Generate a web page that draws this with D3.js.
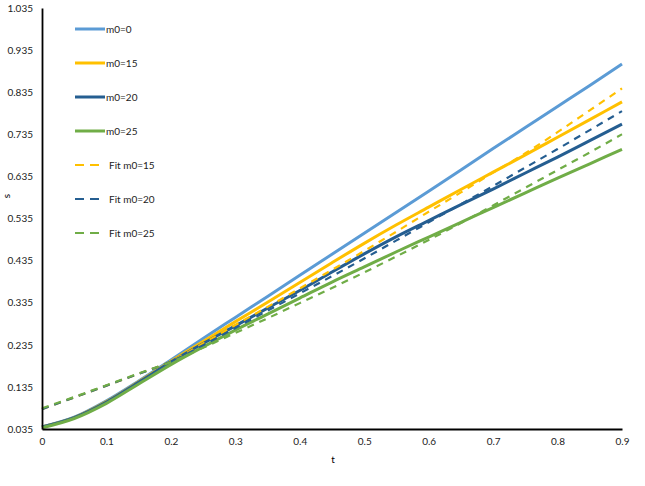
<!DOCTYPE html>
<html>
<head>
<meta charset="utf-8">
<script src="https://d3js.org/d3.v7.min.js"></script>
<style>
  body { margin: 0; background: #fff; }
  text { font-family: Lato, "Open Sans", sans-serif; }
</style>
</head>
<body>
<div id="chart"></div>
<script>
// t values shared by all series
const tValues = [0, 0.05, 0.1, 0.15, 0.2, 0.25, 0.3, 0.35, 0.4, 0.45, 0.5, 0.55, 0.6, 0.65, 0.7, 0.75, 0.8, 0.85, 0.9];

const m0_0  = [0.040, 0.063, 0.102, 0.149, 0.199, 0.250, 0.300, 0.350, 0.400, 0.450, 0.500, 0.550, 0.600, 0.650, 0.701, 0.751, 0.801, 0.851, 0.902];
const m0_15 = [0.040, 0.062, 0.100, 0.147, 0.196, 0.243, 0.290, 0.336, 0.383, 0.430, 0.476, 0.520, 0.562, 0.604, 0.645, 0.686, 0.728, 0.770, 0.812];
const m0_20 = [0.040, 0.062, 0.099, 0.146, 0.194, 0.238, 0.280, 0.322, 0.364, 0.408, 0.451, 0.492, 0.530, 0.568, 0.605, 0.643, 0.681, 0.720, 0.759];
const m0_25 = [0.038, 0.060, 0.096, 0.142, 0.188, 0.230, 0.270, 0.308, 0.346, 0.384, 0.420, 0.456, 0.491, 0.526, 0.561, 0.596, 0.631, 0.665, 0.699];

const fit15 = [0.082, 0.110, 0.138, 0.166, 0.196, 0.238, 0.282, 0.325, 0.369, 0.413, 0.458, 0.504, 0.551, 0.597, 0.644, 0.690, 0.740, 0.792, 0.844];
const fit20 = [0.082, 0.110, 0.138, 0.166, 0.195, 0.234, 0.275, 0.316, 0.357, 0.398, 0.440, 0.483, 0.526, 0.569, 0.612, 0.656, 0.700, 0.745, 0.790];
const fit25 = [0.084, 0.111, 0.139, 0.167, 0.194, 0.228, 0.263, 0.298, 0.334, 0.370, 0.407, 0.445, 0.484, 0.524, 0.566, 0.608, 0.650, 0.692, 0.735];

const xTicks = [0, 0.1, 0.2, 0.3, 0.4, 0.5, 0.6, 0.7, 0.8, 0.9];
const yTicks = [0.035, 0.135, 0.235, 0.335, 0.435, 0.535, 0.635, 0.735, 0.835, 0.935, 1.035];

const series = [
  { name: "m0=0",      values: m0_0,  color: "#5B9BD5", dash: null },
  { name: "m0=15",     values: m0_15, color: "#FFC000", dash: null },
  { name: "m0=20",     values: m0_20, color: "#255E91", dash: null },
  { name: "m0=25",     values: m0_25, color: "#70AD47", dash: null },
  { name: "Fit m0=15", values: fit15, color: "#FFC000", dash: "7,6" },
  { name: "Fit m0=20", values: fit20, color: "#255E91", dash: "7,6" },
  { name: "Fit m0=25", values: fit25, color: "#70AD47", dash: "7,6" }
];

const width = 645, height = 486;
const svg = d3.select("#chart").append("svg")
    .attr("width", width)
    .attr("height", height);

const x = d3.scaleLinear().domain([0, 0.9]).range([42, 622]);
const y = d3.scaleLinear().domain([0.035, 1.035]).range([429, 8]);

const line = d3.line()
    .x((d, i) => x(tValues[i]))
    .y(d => y(d))
    .curve(d3.curveMonotoneX);

// draw solid lines first, fits on top
svg.append("g")
  .selectAll("path")
  .data(series)
  .join("path")
    .attr("fill", "none")
    .attr("stroke", d => d.color)
    .attr("stroke-width", d => d.dash ? 2.2 : 3)
    .attr("stroke-dasharray", d => d.dash)
    .attr("d", d => line(d.values));

// axes
const xAxis = svg.append("g")
    .attr("transform", `translate(0,${y(0.035)})`)
    .call(d3.axisBottom(x).tickValues(xTicks).tickSize(0).tickPadding(9).tickFormat(d3.format("")));
const yAxis = svg.append("g")
    .attr("transform", `translate(${x(0)},0)`)
    .call(d3.axisLeft(y).tickValues(yTicks).tickSize(0).tickPadding(9).tickFormat(d3.format(".3f")));

[xAxis, yAxis].forEach(a => {
  a.select(".domain").attr("stroke", "#000").attr("stroke-width", 1.8);
  a.selectAll("text").attr("font-size", 10).attr("fill", "#222")
    .style("font-family", "Lato, 'Open Sans', sans-serif");
});

// axis titles
svg.append("text")
    .attr("x", 333).attr("y", 463)
    .attr("text-anchor", "middle")
    .attr("font-size", 10)
    .text("t");
svg.append("text")
    .attr("transform", "translate(10,196) rotate(-90)")
    .attr("text-anchor", "middle")
    .attr("font-size", 10)
    .text("s");

// legend
const legend = svg.append("g")
  .selectAll("g")
  .data(series)
  .join("g")
    .attr("transform", (d, i) => `translate(75,${29 + i * 34})`);

legend.append("line")
    .attr("x1", 0).attr("x2", 30)
    .attr("stroke", d => d.color)
    .attr("stroke-width", d => d.dash ? 2.2 : 3)
    .attr("stroke-dasharray", d => d.dash ? "9,6" : null);

legend.append("text")
    .attr("x", d => d.dash ? 34 : 31)
    .attr("dy", "0.35em")
    .attr("font-size", 10)
    .attr("fill", "#222")
    .text(d => d.name);
</script>
</body>
</html>
